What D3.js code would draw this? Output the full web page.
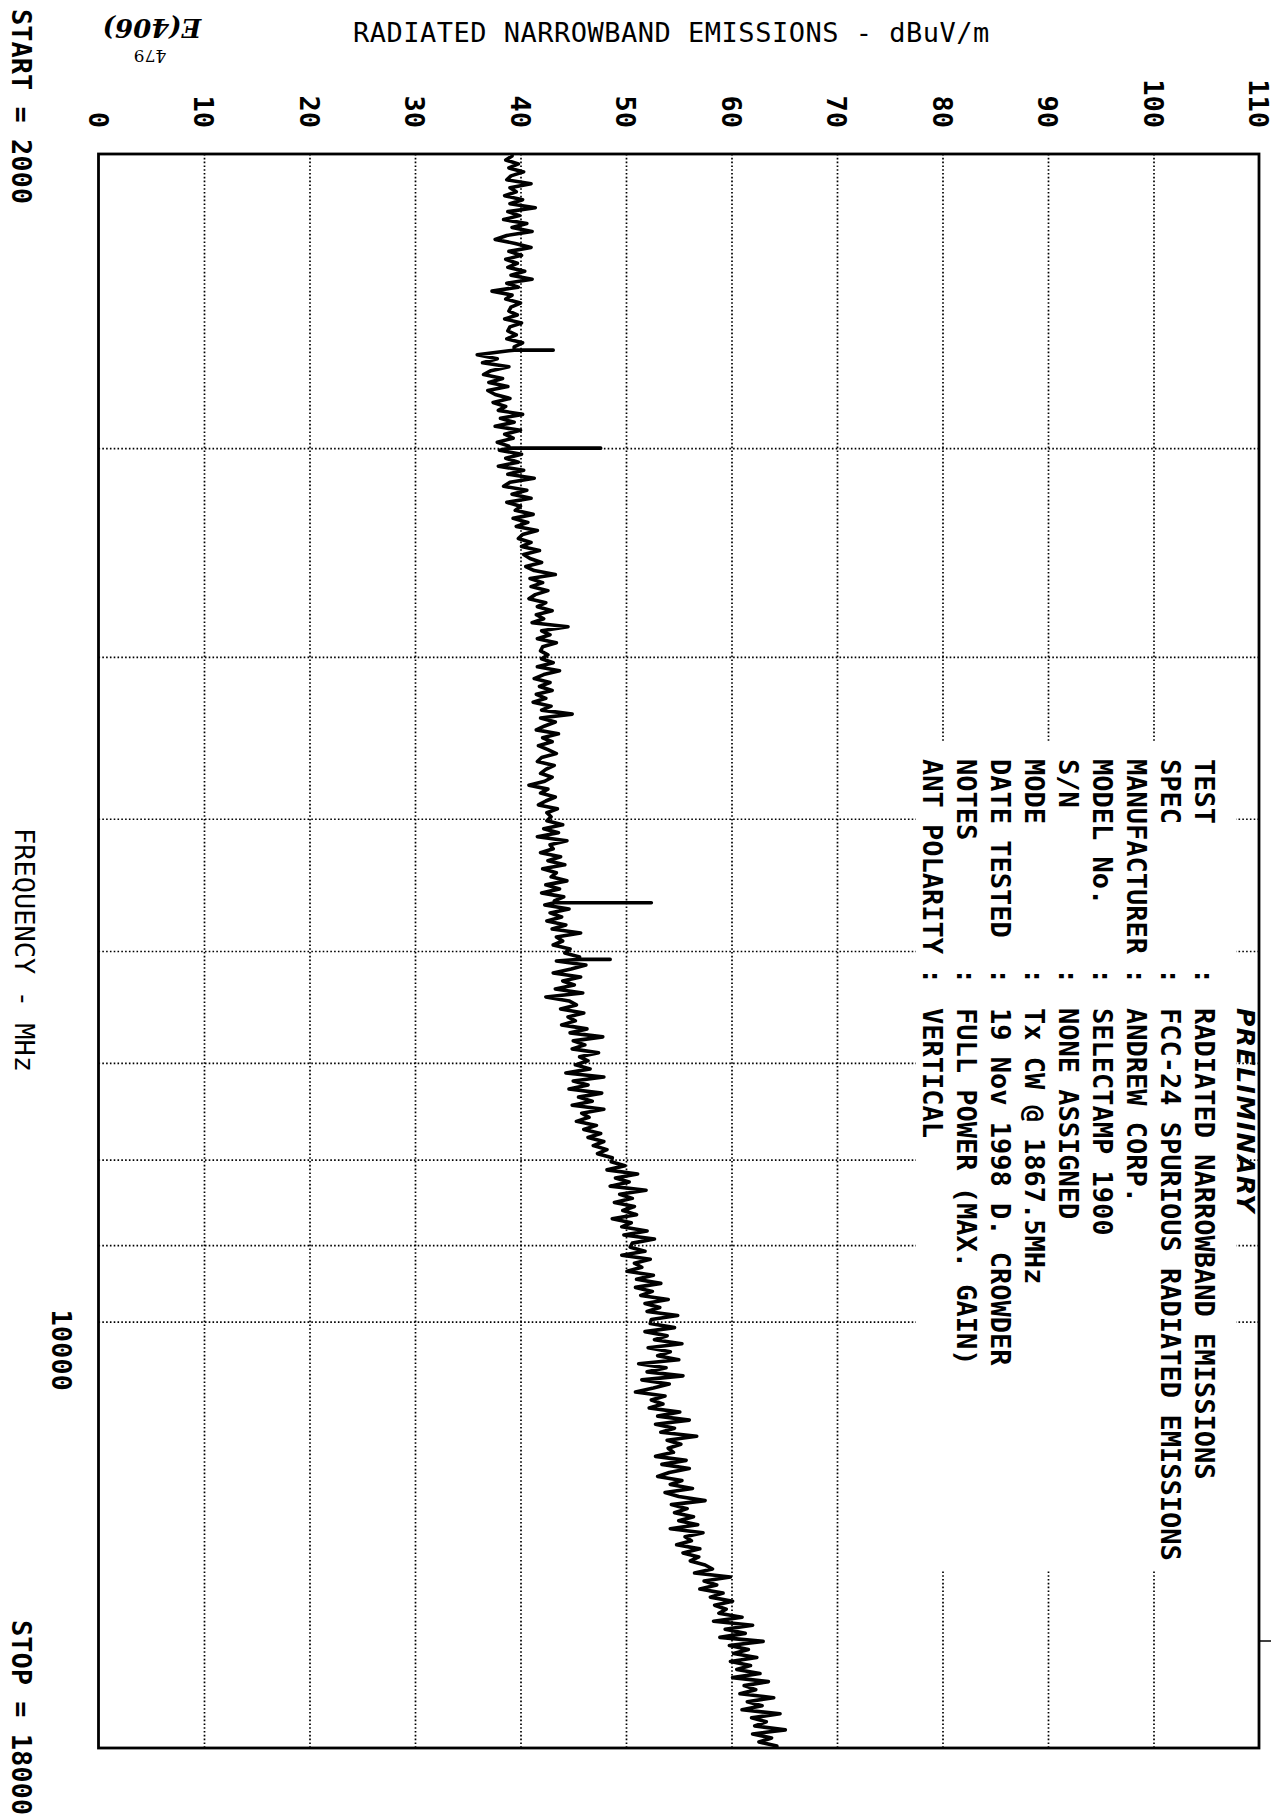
<!DOCTYPE html>
<html>
<head>
<meta charset="utf-8">
<script src="https://cdn.jsdelivr.net/npm/d3@7"></script>
<style>
  html, body { margin: 0; padding: 0; background: #fff; }
  svg { display: block; }
  text { font-family: "DejaVu Sans Mono", "Liberation Mono", monospace; fill: #000; font-weight: bold; }
</style>
</head>
<body>
<svg id="chart" width="1275" height="1817"></svg>
<script>
// ---------------- DATA ----------------
const startFreq = 2000;
const stopFreq = 18000;
const dbTicks = [0, 10, 20, 30, 40, 50, 60, 70, 80, 90, 100, 110];
const freqGrid = [3000, 4000, 5000, 6000, 7000, 8000, 9000, 10000];
const freqLabels = [10000];
const bandEdges = [2000, 3000, 4000, 5000, 6000, 7000, 8000, 9000, 10000, 18000];

const band2000_3000 = [
  39.2, 38.6, 39.8, 38.9, 40.3, 39.1, 38.7, 41.0, 39.0, 39.6,
  38.5, 40.2, 39.0, 41.4, 38.8, 39.9, 38.4, 40.6, 39.2, 41.1,
  38.7, 37.6, 39.5, 41.0, 38.9, 40.1, 38.6, 39.7, 38.8, 40.4,
  39.1, 41.1, 38.7, 39.8, 37.3, 39.2, 38.6, 40.0, 39.1, 38.9,
  39.7, 38.5, 40.1, 39.0, 38.8, 39.6, 38.7, 40.2, 39.4, 38.9,
  35.9, 37.8, 36.4, 38.9, 37.2, 36.5, 38.3, 37.0, 38.8, 36.9,
  37.6, 39.0, 37.4, 38.6, 37.9, 40.2, 38.1, 39.4, 37.6, 40.0,
  38.5, 39.3, 37.8, 38.9
];
const band3000_4000 = [
  38.0, 40.1, 38.6, 39.8, 37.9, 40.3, 38.8, 41.3, 39.0, 38.4,
  40.6, 39.2, 41.0, 38.7, 40.0, 39.5, 41.2, 39.3, 40.7, 39.6,
  41.6, 40.2, 39.8, 41.0, 40.1, 41.8, 40.3, 40.9, 42.0, 40.5,
  41.3, 43.3, 40.9, 42.1, 41.0, 42.6, 41.4, 40.8, 42.4, 41.6,
  43.0, 41.5, 42.2, 41.1, 44.5, 42.0, 42.8, 41.6, 43.4, 42.1,
  41.9, 42.6
];
const band4000_5000 = [
  42.0, 43.1, 41.6, 43.7, 42.2, 41.3, 42.8, 41.8, 43.0, 41.5,
  42.4, 41.2, 42.9, 42.0, 44.9, 41.9, 43.3, 42.3, 41.5, 43.6,
  42.1, 43.0, 41.7, 42.6, 43.4, 42.0, 41.6, 43.2, 42.4, 41.9,
  43.0, 42.3, 40.8, 42.6, 41.9, 43.3, 42.4, 41.7, 43.5, 42.5,
  42.9
];
const band5000_6000 = [
  42.5, 44.0, 42.2, 43.6, 41.6, 44.4, 42.8, 43.1, 41.9, 43.8,
  42.6, 44.2, 42.1, 43.4, 42.9, 44.4, 42.4, 43.7, 42.0, 44.1,
  43.2, 42.3, 44.6, 42.8, 43.9, 42.5, 44.3, 43.0, 45.7, 43.4,
  44.0, 43.1, 44.7
];
const band6000_7000 = [
  44.2, 45.6, 43.4, 46.2, 44.8, 43.1, 45.7, 44.0, 45.1, 43.3,
  45.9, 42.4, 44.6, 45.3, 43.8, 46.0, 44.5, 45.2, 43.9, 46.3,
  44.7, 47.8, 45.0, 46.1, 44.9, 47.4, 45.6, 46.4
];
const band7000_8000 = [
  45.2, 46.6, 44.3, 47.9, 45.0, 46.4, 44.6, 47.7, 45.5, 46.8,
  44.9, 47.9, 45.8, 46.5, 45.3, 47.2, 46.0, 47.6, 46.4, 47.9,
  46.9, 48.2, 47.3, 48.7
];
const band8000_9000 = [
  48.6, 49.9, 48.2, 51.1, 49.0, 50.3, 48.5, 51.9, 49.4, 50.6,
  48.9, 50.8, 49.7, 51.0, 48.7, 50.5, 49.6, 52.0, 49.8, 52.7,
  50.6
];
const band9000_10000 = [
  50.4, 51.8, 49.6, 52.3, 50.8, 51.5, 50.1, 52.6, 51.0, 53.3,
  50.9, 52.5, 51.4, 54.0, 51.8, 53.2, 52.0, 54.9, 52.4
];
const band10000_18000 = [
  52.3, 54.6, 51.8, 53.9, 52.7, 55.3, 52.1, 54.2, 53.0, 55.0,
  51.2, 53.8, 52.0, 55.4, 51.5, 54.1, 52.6, 50.9, 53.7, 52.4,
  53.5, 52.2, 55.1, 53.0, 56.0, 52.8, 54.6, 53.3, 56.7, 53.9, 55.2, 54.0,
  54.5, 52.8, 55.7, 53.4, 56.0, 54.1, 53.0, 55.3, 54.2, 56.3, 53.7, 55.0, 57.5, 54.3, 55.8, 54.6, 56.4,
  55.0, 56.8, 54.2, 57.3, 55.6, 56.2, 54.8, 57.0, 55.4, 56.9, 56.1, 57.5,
  58.2, 56.5, 59.9, 57.4, 58.6, 57.0, 59.2, 58.0, 60.1, 58.4, 59.5,
  58.8, 61.0, 58.3, 62.0, 59.4, 61.3, 58.9, 63.0, 59.8, 61.6, 60.2, 62.4, 59.9, 61.8,
  60.5, 62.7, 60.1, 63.5, 61.2, 62.3, 60.8, 64.0, 61.5, 62.9, 61.0, 64.6, 61.9, 63.3, 62.2, 65.1, 62.0, 63.8, 62.6, 64.3
];
// narrowband spikes: [frequency MHz, peak dBuV/m]
const spikeFreqs = [2621, 3000, 5614, 6070];
const spikeLevels = [43.1, 47.6, 52.4, 48.5];

const infoLabels = ["TEST", "SPEC", "MANUFACTURER", "MODEL No.", "S/N", "MODE", "DATE TESTED", "NOTES", "ANT POLARITY"];
const infoValues = ["RADIATED NARROWBAND EMISSIONS", "FCC-24 SPURIOUS RADIATED EMISSIONS", "ANDREW CORP.",
  "SELECTAMP 1900", "NONE ASSIGNED", "Tx CW @ 1867.5MHz", "19 Nov 1998  D. CROWDER", "FULL POWER (MAX. GAIN)", "VERTICAL"];

// ---------------- DRAW ----------------
const svg = d3.select("#chart");
const L = 98.5, R = 1259, T = 154, B = 1748;
const x = d3.scaleLinear().domain([0, 110]).range([L, R]);
const y = d3.scaleLog().domain([startFreq, stopFreq]).range([T, B]);
const FS = 27;

svg.append("rect").attr("width", 1275).attr("height", 1817).attr("fill", "#fff");

// gridlines via axes
const gx = svg.append("g").attr("transform", `translate(0,${T})`)
  .call(d3.axisTop(x).tickValues(dbTicks.filter(d => d > 0 && d < 110)).tickSize(-(B - T)).tickFormat(""));
const gy = svg.append("g").attr("transform", `translate(${L},0)`)
  .call(d3.axisLeft(y).tickValues(freqGrid).tickSize(-(R - L)).tickFormat(""));
[gx, gy].forEach(g => {
  g.select(".domain").remove();
  g.selectAll(".tick line").attr("stroke", "#000").attr("stroke-width", 1.7).attr("stroke-dasharray", "1.6,2.2");
});

// blank area behind the information block
svg.append("rect").attr("x", 916).attr("y", 742).attr("width", 320).attr("height", 828).attr("fill", "#fff");

// trace
const bands = [band2000_3000, band3000_4000, band4000_5000, band5000_6000, band6000_7000,
  band7000_8000, band8000_9000, band9000_10000, band10000_18000];
let pts = [];
bands.forEach((vals, i) => {
  const lo = bandEdges[i], hi = bandEdges[i + 1], n = vals.length;
  vals.forEach((v, j) => pts.push([lo * Math.pow(hi / lo, (j + 0.5) / n), v]));
});
spikeFreqs.forEach((f, k) => {
  let idx = pts.findIndex(p => p[0] > f);
  if (idx < 0) idx = pts.length;
  const base = pts[Math.max(0, idx - 1)][1];
  pts.splice(idx, 0, [f, base], [f, spikeLevels[k]], [f, base]);
});
pts.unshift([startFreq, pts[0][1]]);
pts.push([stopFreq, pts[pts.length - 1][1]]);

const line = d3.line().x(d => x(d[1])).y(d => y(d[0]));
svg.append("path").datum(pts).attr("d", line)
  .attr("fill", "none").attr("stroke", "#000").attr("stroke-width", 3.6)
  .attr("stroke-linejoin", "round");

// frame
svg.append("rect").attr("x", L).attr("y", T).attr("width", R - L).attr("height", B - T)
  .attr("fill", "none").attr("stroke", "#000").attr("stroke-width", 2.8);
svg.append("line").attr("x1", R).attr("x2", R + 12).attr("y1", 1641).attr("y2", 1641)
  .attr("stroke", "#000").attr("stroke-width", 1.5);

function vtext(t, px, py, anchor, size) {
  return svg.append("text")
    .attr("transform", `translate(${px},${py}) rotate(90)`)
    .attr("text-anchor", anchor || "start")
    .attr("dy", "0.36em")
    .attr("font-size", size || FS)
    .text(t);
}

// title (axis title of the level axis)
svg.append("text").attr("x", 353).attr("y", 42).attr("font-size", FS)
  .attr("letter-spacing", 0.5).style("font-weight", "normal")
  .text("RADIATED NARROWBAND EMISSIONS - dBuV/m");

// level tick labels
dbTicks.forEach(d => vtext(String(d), x(d), 128, "end"));

// frequency labels
vtext("START = 2000", 22, 9, "start");
vtext("FREQUENCY - MHz", 25, 950, "middle").style("font-weight", "normal");
vtext("STOP = 18000", 22, 1620, "start");
freqLabels.forEach(f => vtext(String(f), 62, y(f) - 12, "start"));

// information block
infoLabels.forEach((t, i) => {
  const cx = 1205 - 34 * i;
  vtext(t, cx, 759, "start");
  vtext(":", cx, 968, "start");
  vtext(infoValues[i], cx, 1008, "start");
});

// handwritten annotations
svg.append("text")
  .attr("transform", `translate(1246,1008) rotate(90)`)
  .attr("dy", "0.36em")
  .style("font-family", "'DejaVu Sans', sans-serif")
  .style("font-style", "italic").style("font-weight", "bold")
  .attr("font-size", 25).attr("letter-spacing", 1.5).text("PRELIMINARY");
svg.append("text")
  .attr("transform", `translate(152,28) rotate(180)`)
  .attr("text-anchor", "middle").attr("dy", "0.36em")
  .style("font-family", "'DejaVu Serif', serif").style("font-style", "italic")
  .style("font-weight", "bold")
  .attr("font-size", 26).text("E(406)");
svg.append("text")
  .attr("transform", `translate(150,56) rotate(180)`)
  .attr("text-anchor", "middle").attr("dy", "0.36em")
  .style("font-family", "'DejaVu Serif', serif").style("font-weight", "normal")
  .attr("font-size", 17).text("479");
</script>
</body>
</html>
